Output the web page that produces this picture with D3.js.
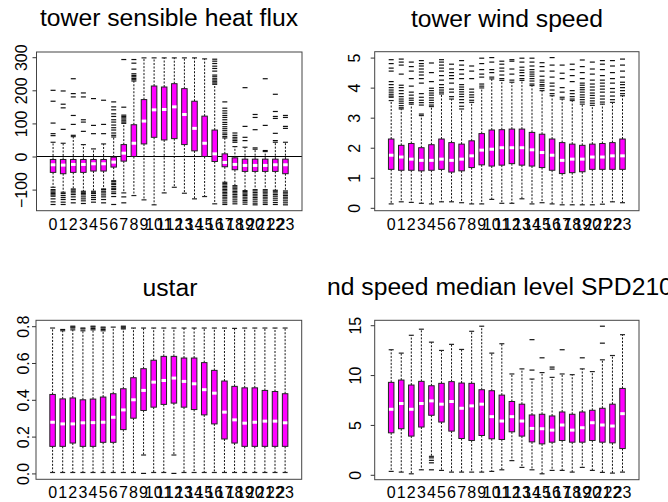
<!DOCTYPE html>
<html><head><meta charset="utf-8">
<script src="https://cdn.jsdelivr.net/npm/d3@7"></script>
<style>body{margin:0;background:#fff} svg{display:block} text{font-family:"Liberation Sans",Arial,Helvetica,sans-serif}</style>
</head><body><svg id="c" width="668" height="502"></svg>
<script>
const hours = ["0","1","2","3","4","5","6","7","8","9","10","11","12","13","14","15","16","17","18","19","20","21","22","23"];

// ---- tower sensible heat flux ----
const shfLo  = [-93,-108,-98,-105,-105,-98,-73,-110,-118,-131,-146,-110,-93,-111,-128,-121,-143,-78,-88,-103,-100,-100,-102,-104];
const shfQ1  = [-48,-52,-48,-48,-44,-44,-32,-14,0,38,58,50,54,36,17,0,-15,-31,-40,-45,-45,-45,-45,-52];
const shfMed = [-25,-26,-24,-24,-22,-22,-17,10,40,107,141,142,150,127,85,40,8,-18,-24,-27,-27,-27,-25,-25];
const shfQ3  = [-9,-9,-9,-9,-9,-9,-2,36,96,172,213,210,220,205,167,122,80,8,-4,-8,-8,-8,-8,-8];
const shfHi  = [43,40,60,36,23,38,59,100,228,298,298,298,298,298,298,295,218,56,30,28,22,15,43,43];
const shfOut = [
 [63,69,101,167,200,-100,-104,-108,-112,-116,-120,-128,-137,-145],
 [82,147,158,198,-112,-118,-124,-130,-138,-145],
 [64,97,124,180,190,235,-101,-105,-110,-115,-122,-130,-140],
 [76,104,111,180,192,-108,-112,-116,-122,-128,-134,-142],
 [69,94,175,-108,-112,-118,-124,-130,-138],
 [69,97,170,-100,-105,-110,-116,-122,-130,-140],
 [64,71,80,87,95,104,111,121,129,141,150,165,-76,-81,-85,-91,-96,-100,-107,-112,-121,-145],
 [104,108,113,117,121,125,149,293,-122,-140],
 [232,236,241,245,250,264,282,293],
 [],[],[],[],[],[],[],
 [222,226,231,235,241,246,258,266,273,281,288,294],
 [60,66,71,78,84,90,97,103,111,118,124,131,138,146,165,-82,-86,-91,-95,-100,-104,-109,-113,-118,-123,-128,-134,-140,-145],
 [43,48,53,58,64,71,-92,-96,-101,-106,-110,-115,-120,-125,-131,-137,-143],
 [48,58,91,208,-106,-110,-114,-118,-123,-128,-133,-138,-144],
 [26,81,118,127,-104,-109,-114,-119,-124,-129,-135,-141,-146],
 [18,94,235,-104,-108,-113,-118,-123,-128,-134,-140,-145],
 [48,70,115,121,136,188,-105,-110,-115,-120,-126,-132,-139,-145],
 [85,91,118,124,-108,-113,-118,-123,-128,-134,-140,-146]
];
const shfTicks = [-100,0,100,200,300];
const shfTickLabels = ["\u2212100","0","100","200","300"];

// ---- tower wind speed ----
const wsLo  = [0.13,0.2,0.18,0.15,0.13,0.2,0.2,0.17,0.13,0.13,0.28,0.15,0.15,0.3,0.13,0.17,0.13,0.1,0.1,0.1,0.1,0.12,0.2,0.17];
const wsQ1  = [1.28,1.25,1.25,1.23,1.25,1.28,1.19,1.23,1.34,1.43,1.39,1.42,1.47,1.42,1.39,1.34,1.25,1.14,1.17,1.2,1.28,1.28,1.28,1.28];
const wsMed = [1.75,1.69,1.62,1.58,1.58,1.62,1.58,1.62,1.73,1.92,1.95,2.0,2.0,2.0,1.93,1.84,1.75,1.58,1.62,1.62,1.69,1.69,1.73,1.73];
const wsQ3  = [2.29,2.08,2.14,2.0,2.1,2.29,2.17,2.12,2.23,2.47,2.59,2.6,2.62,2.62,2.51,2.45,2.29,2.17,2.12,2.08,2.12,2.14,2.17,2.29];
const wsHi  = [3.57,3.29,3.45,3.07,3.37,3.79,3.62,3.29,3.51,3.99,4.29,4.24,4.18,4.24,4.07,3.9,3.73,3.62,3.57,3.45,3.41,3.45,3.51,3.73];
const wsOut = [
 [3.68,3.72,3.78,3.85,3.92,4.0,4.1,4.2,4.55,4.65,4.8,4.93],
 [3.33,3.4,3.48,3.55,3.62,3.7,3.8,3.9,4.0,4.08,4.45,4.75,4.85,4.95],
 [3.5,3.58,3.65,3.75,3.85,4.05,4.3,4.55,4.7,4.85],
 [3.12,3.42,3.5,3.58,3.68,3.8,4.15,4.3,4.42,4.52,4.62,4.72,4.8,4.9],
 [3.42,3.5,3.58,3.66,3.75,3.82,3.9,3.98,4.2,4.5,4.82],
 [3.85,3.92,4.0,4.1,4.25,4.4,4.55,4.65,4.75,4.85,4.93],
 [3.7,3.85,3.95,4.15,4.3,4.4,4.5,4.62,4.78],
 [3.38,3.5,3.6,3.7,3.78,3.86,3.94,4.02,4.1,4.3,4.45,4.6,4.75,4.9],
 [3.58,3.68,3.76,3.85,3.95,4.3,4.55,4.72],
 [4.05,4.12,4.35,4.45,4.6,4.8,4.98],
 [4.35,4.5,4.6,4.85,5.0],
 [4.3,4.42,4.55,4.65,4.78,4.88],
 [4.25,4.45,4.62,4.88,4.93],
 [4.3,4.4,4.5,4.58,4.68,4.85,4.98],
 [4.12,4.22,4.3,4.38,4.45,4.52,4.6,4.72,4.85,4.98],
 [3.97,4.05,4.1,4.18,4.25,4.38,4.55,4.7,4.83],
 [3.8,3.92,4.05,4.15,4.35,4.55,4.75,5.0],
 [3.68,3.85,4.0,4.3,4.48,4.75],
 [3.62,3.7,3.8,3.9,4.2,4.4,4.6,4.78],
 [3.52,3.6,3.68,3.76,3.85,3.93,4.0,4.08,4.15,4.3,4.5,4.7,4.92],
 [3.48,3.56,3.65,3.74,3.82,3.92,4.02,4.12,4.25,4.45,4.62,4.85],
 [3.52,3.62,3.72,3.85,3.95,4.05,4.15,4.25,4.4,4.6,4.78,4.9],
 [3.6,3.72,3.85,3.97,4.15,4.3,4.5,4.72,4.9],
 [3.8,3.9,4.0,4.1,4.18,4.35,4.55,4.75,4.95]
];
const wsTicks = [0,1,2,3,4,5];
const wsTickLabels = ["0","1","2","3","4","5"];

// ---- ustar ----
const usLo  = [0.005,0.005,0.005,0.005,0.005,0.005,0.005,0.005,0.005,0.1,0.005,0.005,0.1,0.005,0.005,0.005,0.005,0.005,0.005,0.005,0.005,0.005,0.005,0.005];
const usQ1  = [0.147,0.147,0.165,0.147,0.147,0.169,0.169,0.238,0.3,0.342,0.36,0.375,0.382,0.36,0.347,0.318,0.269,0.187,0.165,0.147,0.147,0.147,0.147,0.147];
const usMed = [0.278,0.269,0.269,0.275,0.276,0.278,0.305,0.345,0.4,0.451,0.496,0.505,0.518,0.5,0.487,0.455,0.436,0.333,0.291,0.273,0.278,0.284,0.284,0.275];
const usQ3  = [0.429,0.405,0.41,0.4,0.404,0.415,0.433,0.46,0.52,0.569,0.615,0.636,0.636,0.627,0.627,0.602,0.56,0.502,0.473,0.465,0.465,0.451,0.445,0.433];
const usHi  = [0.79,0.775,0.78,0.775,0.78,0.775,0.795,0.785,0.79,0.79,0.79,0.79,0.79,0.79,0.79,0.79,0.79,0.79,0.788,0.79,0.79,0.79,0.79,0.79];
const usOut = [
 [],[0.782],[0.79,0.795,0.8],[0.785,0.79],[0.787,0.795,0.8],[0.782,0.79,0.795],[],[0.79,0.795,0.8],
 [],[0.0],[],[],[0.0],[],[],[],[],[],[],[],[],[],[],[]
];
const usTicks = [0,0.2,0.4,0.6,0.8];
const usTickLabels = ["0.0","0.2","0.4","0.6","0.8"];

// ---- wind speed median level ----
const spLo  = [0.34,0.27,0.1,0.5,1.85,0.44,0.27,0.27,0.27,0.27,0.34,0.5,1.42,0.74,0.5,0.1,0.44,0.44,0.27,0.74,0.44,0.24,0.17,0.27];
const spQ1  = [4.21,4.62,3.88,4.79,5.97,5.29,4.38,3.64,3.44,3.94,3.61,3.54,4.31,3.88,3.3,3.1,3.27,3.44,3.27,3.27,3.44,3.27,3.2,2.63];
const spMed = [6.57,7.15,6.57,7.15,7.41,7.08,7.35,6.67,6.91,7.08,5.83,5.39,5.83,5.39,4.65,4.62,4.48,4.99,4.48,4.72,5.22,4.99,4.89,6.13];
const spQ3  = [9.27,9.5,9.0,9.37,8.93,9.17,9.34,9.2,9.17,8.53,8.43,7.99,7.35,7.08,6.0,6.07,5.9,6.3,6.07,6.3,6.47,6.67,7.08,8.66];
const spHi  = [12.54,12.2,13.99,14.6,13.3,12.47,13.08,12.57,14.39,14.9,12.2,13.14,10.11,10.62,9.6,10.25,9.77,10.11,10.04,10.62,10.35,11.53,11.96,14.05];
const spOut = [
 [],[],[],[],[1.7,1.45,1.2,0.5],[],[],[],[],[],[],[],[],[],
 [10.5,13.55],[11.73],[10.6,10.8],[12.54],[],[11.73],[],[13.2,14.9],[],[]
];
const spTicks = [0,5,10,15];
const spTickLabels = ["0","5","10","15"];

const svg = d3.select("#c");

function panel(cfg, lo, q1, med, q3, hi, out, ticks, tickLabels) {
  const g = svg.append("g");
  const x = d3.scalePoint().domain(hours).range([cfg.x0, cfg.x1]).padding(1.64);
  const all = lo.concat(hi, out.flat());
  const mn = d3.min(all), mx = d3.max(all), r = mx - mn;
  const y = d3.scaleLinear().domain([mn - 0.04 * r, mx + 0.04 * r]).range([cfg.y1, cfg.y0]);
  const bw = 5.5, sw = 5, ow = 5;
  const rows = hours.map((h, i) => ({h, lo: lo[i], q1: q1[i], med: med[i], q3: q3[i], hi: hi[i], out: out[i]}));

  if (cfg.zero) {
    g.append("line").attr("x1", cfg.x0).attr("x2", cfg.x1)
      .attr("y1", y(0)).attr("y2", y(0)).attr("stroke", "#000").attr("stroke-width", 1);
  }
  const b = g.selectAll(".bx").data(rows).join("g");
  b.append("line").attr("x1", d => x(d.h)).attr("x2", d => x(d.h))
    .attr("y1", d => y(d.q3)).attr("y2", d => y(d.hi))
    .attr("stroke", "#111").attr("stroke-width", 1).attr("stroke-dasharray", "2,1.5");
  b.append("line").attr("x1", d => x(d.h)).attr("x2", d => x(d.h))
    .attr("y1", d => y(d.q1)).attr("y2", d => y(d.lo))
    .attr("stroke", "#111").attr("stroke-width", 1).attr("stroke-dasharray", "2,1.5");
  ["lo", "hi"].forEach(k => {
    b.append("line").attr("x1", d => x(d.h) - sw / 2).attr("x2", d => x(d.h) + sw / 2)
      .attr("y1", d => y(d[k])).attr("y2", d => y(d[k]))
      .attr("stroke", "#222").attr("stroke-width", 1.2);
  });
  b.append("rect").attr("x", d => x(d.h) - bw / 2).attr("width", bw)
    .attr("y", d => y(d.q3)).attr("height", d => y(d.q1) - y(d.q3))
    .attr("fill", "#f0f").attr("stroke", "#222").attr("stroke-width", 1);
  b.append("line").attr("x1", d => x(d.h) - bw / 2 + 0.5).attr("x2", d => x(d.h) + bw / 2 - 0.5)
    .attr("y1", d => y(d.med)).attr("y2", d => y(d.med))
    .attr("stroke", "#fff").attr("stroke-width", 3);
  b.each(function(d) {
    d3.select(this).selectAll(".o").data(d.out).join("line")
      .attr("x1", x(d.h) - ow / 2).attr("x2", x(d.h) + ow / 2)
      .attr("y1", v => y(v)).attr("y2", v => y(v))
      .attr("stroke", "#111").attr("stroke-width", 1.2);
  });
  g.append("rect").attr("x", cfg.x0).attr("y", cfg.y0)
    .attr("width", cfg.x1 - cfg.x0).attr("height", cfg.y1 - cfg.y0)
    .attr("fill", "none").attr("stroke", "#444").attr("stroke-width", 1);
  const ax = g.append("g").attr("transform", `translate(${cfg.x0},0)`)
    .call(d3.axisLeft(y).tickValues(ticks).tickSize(4).tickFormat((d, i) => tickLabels[i]));
  ax.select(".domain").remove();
  ax.selectAll(".tick line").attr("stroke", "#333");
  ax.selectAll(".tick text")
    .attr("transform", "rotate(-90)").attr("x", 0).attr("y", -cfg.lab).attr("dy", 0)
    .attr("text-anchor", "middle").attr("fill", "#000")
    .style("font-size", "16px").style("font-family", '"Liberation Sans",Arial,sans-serif');
  g.selectAll(".xl").data(hours).join("text")
    .attr("x", d => x(d)).attr("y", cfg.xl).attr("text-anchor", "middle")
    .attr("font-size", 16).attr("fill", "#000").text(d => d);
  g.append("text").attr("x", cfg.tx).attr("y", cfg.ty)
    .attr("text-anchor", cfg.tanchor || "middle").attr("font-size", 24.7)
    .attr("fill", "#000")
    .text(cfg.title);
}

panel({x0: 36.5, x1: 302, y0: 52, y1: 210.7, lab: 9.5, xl: 230, tx: 169, ty: 26, title: "tower sensible heat flux", zero: true},
  shfLo, shfQ1, shfMed, shfQ3, shfHi, shfOut, shfTicks, shfTickLabels);
panel({x0: 374.7, x1: 639, y0: 51.7, y1: 210.7, lab: 14.5, xl: 230, tx: 507, ty: 26.5, title: "tower wind speed"},
  wsLo, wsQ1, wsMed, wsQ3, wsHi, wsOut, wsTicks, wsTickLabels);
panel({x0: 36, x1: 301.7, y0: 320.3, y1: 479.3, lab: 7.5, xl: 497.5, tx: 170, ty: 295.5, title: "ustar"},
  usLo, usQ1, usMed, usQ3, usHi, usOut, usTicks, usTickLabels);
panel({x0: 374.7, x1: 639, y0: 320.3, y1: 479.7, lab: 14, xl: 497.5, tx: 327, ty: 295, tanchor: "start", title: "nd speed median level SPD2100"},
  spLo, spQ1, spMed, spQ3, spHi, spOut, spTicks, spTickLabels);
</script></body></html>
